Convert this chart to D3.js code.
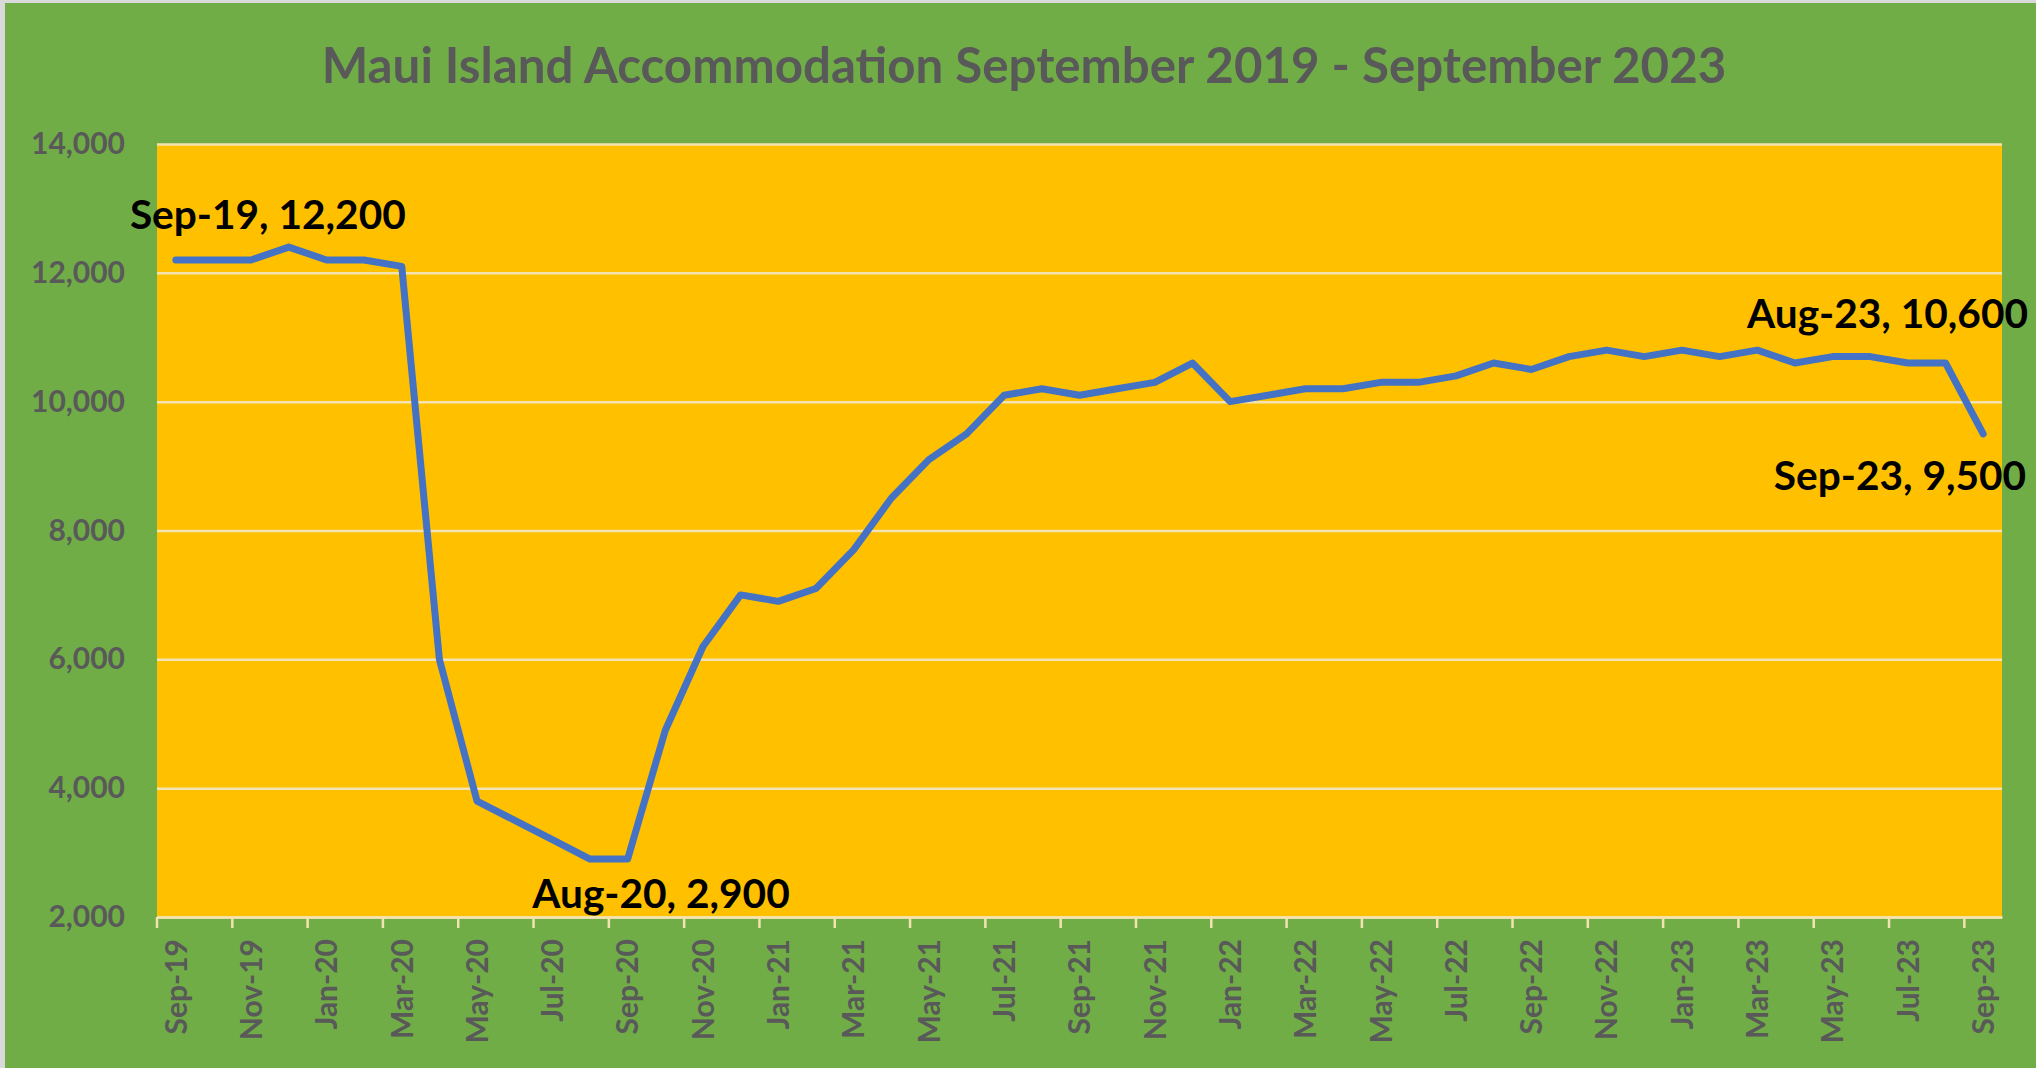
<!DOCTYPE html>
<html>
<head>
<meta charset="utf-8">
<script src="https://cdn.jsdelivr.net/npm/d3@7"></script>
<style>
  html, body { margin: 0; padding: 0; background: #ffffff; }
  svg { display: block; }
  text { font-family: Lato, "Open Sans", sans-serif; font-weight: 700; }
</style>
</head>
<body>
<svg id="chart" width="2036" height="1068"></svg>
<script>
// ---------------- data ----------------
const title = "Maui Island Accommodation September 2019 - September 2023";

const months = [
  "Sep-19","Oct-19","Nov-19","Dec-19",
  "Jan-20","Feb-20","Mar-20","Apr-20","May-20","Jun-20","Jul-20","Aug-20","Sep-20","Oct-20","Nov-20","Dec-20",
  "Jan-21","Feb-21","Mar-21","Apr-21","May-21","Jun-21","Jul-21","Aug-21","Sep-21","Oct-21","Nov-21","Dec-21",
  "Jan-22","Feb-22","Mar-22","Apr-22","May-22","Jun-22","Jul-22","Aug-22","Sep-22","Oct-22","Nov-22","Dec-22",
  "Jan-23","Feb-23","Mar-23","Apr-23","May-23","Jun-23","Jul-23","Aug-23","Sep-23"
];

const accommodation = [
  12200, 12200, 12200, 12400,
  12200, 12200, 12100, 6000, 3800, 3500, 3200, 2900, 2900, 4900, 6200, 7000,
  6900, 7100, 7700, 8500, 9100, 9500, 10100, 10200, 10100, 10200, 10300, 10600,
  10000, 10100, 10200, 10200, 10300, 10300, 10400, 10600, 10500, 10700, 10800, 10700,
  10800, 10700, 10800, 10600, 10700, 10700, 10600, 10600, 9500
];

const yTickValues = [2000, 4000, 6000, 8000, 10000, 12000, 14000];
const xTickLabels = months.filter((d, i) => i % 2 === 0);
const labelledMonths = ["Sep-19", "Aug-20", "Aug-23", "Sep-23"];

// ---------------- layout ----------------
const W = 2036, H = 1068;
const plot = { left: 157, right: 2002, top: 144, bottom: 917 };

const svg = d3.select("#chart");

// outer frame + background
svg.append("rect").attr("x", 0).attr("y", 0).attr("width", W).attr("height", H).attr("fill", "#D9D9D9");
svg.append("rect").attr("x", 5).attr("y", 3).attr("width", W - 5).attr("height", H - 3).attr("fill", "#70AD47");

const x = d3.scaleBand().domain(months).range([plot.left, plot.right]).padding(0);
const y = d3.scaleLinear().domain([2000, 14000]).range([plot.bottom, plot.top]);

// plot area
svg.append("rect")
  .attr("x", plot.left).attr("y", plot.top)
  .attr("width", plot.right - plot.left).attr("height", plot.bottom - plot.top)
  .attr("fill", "#FFC000");

const gridColor = "#F3E3B0";

// y axis with gridlines
const yAxis = svg.append("g")
  .attr("transform", `translate(${plot.left},0)`)
  .call(d3.axisLeft(y).tickValues(yTickValues).tickFormat(d3.format(",")).tickSize(-(plot.right - plot.left)).tickPadding(32));
yAxis.select(".domain").remove();
yAxis.selectAll(".tick line").attr("stroke", gridColor).attr("stroke-width", 2.5);
yAxis.selectAll(".tick text").attr("fill", "#595959").attr("font-size", 29);

// x axis: labels at band centres, every other month
const xAxis = svg.append("g")
  .attr("transform", `translate(0,${plot.bottom})`)
  .call(d3.axisBottom(x).tickValues(xTickLabels).tickSize(0).tickPadding(0));
xAxis.select(".domain").attr("stroke", gridColor).attr("stroke-width", 2.5);
xAxis.selectAll(".tick text")
  .attr("fill", "#595959")
  .attr("font-size", 29)
  .attr("text-anchor", "end")
  .attr("transform", "rotate(-90)")
  .attr("x", -22)
  .attr("y", 0)
  .attr("dy", "0.36em");

// tick marks on band boundaries (every 2 categories)
svg.append("g").selectAll("line")
  .data(xTickLabels)
  .join("line")
  .attr("x1", d => x(d)).attr("x2", d => x(d))
  .attr("y1", plot.bottom).attr("y2", plot.bottom + 11)
  .attr("stroke", gridColor).attr("stroke-width", 2.5);

// fit axis label font to reference width
(function fitAxis() {
  const t = yAxis.selectAll(".tick text").filter(d => d === 14000).node();
  const w = t.getComputedTextLength();
  const fs = 29 * 94 / w;
  yAxis.selectAll(".tick text").attr("font-size", fs);
  xAxis.selectAll(".tick text").attr("font-size", fs);
})();

// line
const line = d3.line()
  .x((d, i) => x(months[i]) + x.bandwidth() / 2)
  .y(d => y(d));

svg.append("path")
  .datum(accommodation)
  .attr("d", line)
  .attr("fill", "none")
  .attr("stroke", "#4472C4")
  .attr("stroke-width", 7)
  .attr("stroke-linejoin", "round")
  .attr("stroke-linecap", "round");

// title
const titleText = svg.append("text")
  .attr("x", 1024).attr("y", 83)
  .attr("text-anchor", "middle")
  .attr("fill", "#595959")
  .attr("font-size", 46)
  .text(title);
{
  const w = titleText.node().getComputedTextLength();
  titleText.attr("font-size", 46 * 1405 / w);
}

// data labels
const labelOffsets = {
  "Sep-19": { dx: 92, dy: -31, anchor: "middle" },
  "Aug-20": { dx: 71, dy: 49, anchor: "middle" },
  "Aug-23": { dx: -58, dy: -35, anchor: "middle" },
  "Sep-23": { dx: 43, dy: 56, anchor: "end" }
};
const fmt = d3.format(",");
const labels = svg.append("g").selectAll("text")
  .data(labelledMonths)
  .join("text")
  .attr("x", m => x(m) + x.bandwidth() / 2 + labelOffsets[m].dx)
  .attr("y", m => y(accommodation[months.indexOf(m)]) + labelOffsets[m].dy)
  .attr("text-anchor", m => labelOffsets[m].anchor)
  .attr("fill", "#000000")
  .attr("font-size", 40)
  .text(m => `${m}, ${fmt(accommodation[months.indexOf(m)])}`);
{
  const w = labels.filter(m => m === "Sep-19").node().getComputedTextLength();
  labels.attr("font-size", 40 * 276 / w);
}
</script>
</body>
</html>
